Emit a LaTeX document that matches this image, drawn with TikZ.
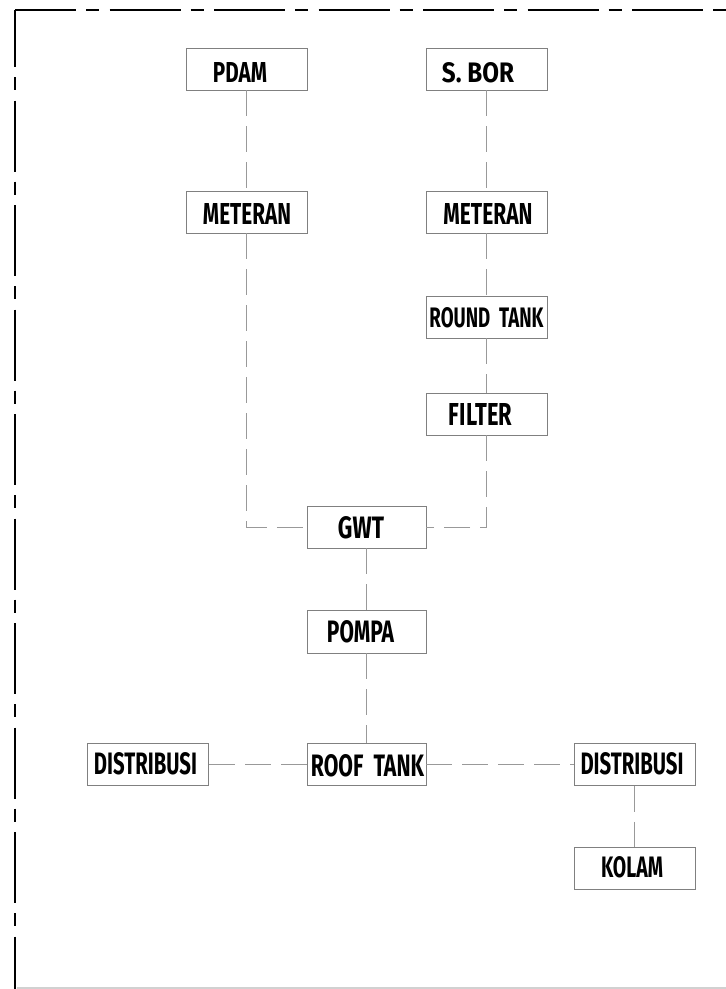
\documentclass[tikz,border=0pt]{standalone}
\usepackage{fontspec}
\setmainfont{Fira Sans}
\newcommand{\cadtxt}[3]{\resizebox{#1pt}{#2pt}{\bfseries #3}}
\begin{document}
\begin{tikzpicture}[x=1pt,y=-1pt,
  boxst/.style={draw=black!50,line width=0.9pt,rectangle,inner sep=0pt,minimum width=121pt,minimum height=42pt},
  txt/.style={inner sep=0pt,text=black},
  conn/.style={draw=black!40,line width=0.9pt,dash pattern=on 26pt off 10pt},
  border/.style={draw=black,line width=2.6pt,dash pattern=on 71pt off 10pt on 13pt off 10.5pt}]
\useasboundingbox (0,0) rectangle (726,989);

% border
\coordinate (c) at (15,10);
\coordinate (bl) at (15,989);
\coordinate (tr) at (726,10);
\coordinate (b1) at (17,988);
\coordinate (b2) at (726,988);
\draw[border,dash phase=14pt] (c) -- (bl);
\draw[border,dash phase=10pt] (c) -- (tr);
\draw[draw=black!18,line width=1.2pt] (b1) -- (b2);

% boxes
\node[boxst] (pdam)   at (246.5,69)  {};
\node[boxst] (sbor)   at (486.5,69)  {};
\node[boxst] (metL)   at (246.5,212) {};
\node[boxst] (metR)   at (486.5,212) {};
\node[boxst] (round)  at (486.5,317) {};
\node[boxst] (filter) at (486.5,414) {};
\node[boxst,minimum width=119pt] (gwt)   at (366.5,527) {};
\node[boxst,minimum width=119pt,minimum height=43pt] (pompa) at (366.5,631.5) {};
\node[boxst,minimum width=119pt] (roof)  at (366.5,764.5) {};
\node[boxst] (distL)  at (147.5,764.5) {};
\node[boxst] (distR)  at (634.5,764.5) {};
\node[boxst] (kolam)  at (634.5,868) {};

% texts
\node[txt] (tpdam)   at (240,72)     {\cadtxt{54}{20}{PDAM}};
\node[txt] (tsbor)   at (478,72.5)   {\cadtxt{72}{20}{S.\ BOR}};
\node[txt] (tmetL)   at (247,213.5)  {\cadtxt{88}{21}{METERAN}};
\node[txt] (tmetR)   at (488,213.5)  {\cadtxt{89}{21}{METERAN}};
\node[txt] (tround)  at (486.5,318)  {\cadtxt{114}{20}{ROUND\ \ TANK}};
\node[txt] (tfilter) at (480.5,414.5) {\cadtxt{63}{22}{FILTER}};
\node[txt] (tgwt)    at (361,528)    {\cadtxt{46}{22}{GWT}};
\node[txt] (tpompa)  at (360.5,631.5) {\cadtxt{67}{22}{POMPA}};
\node[txt] (troof)   at (367.5,765.5) {\cadtxt{113}{22}{ROOF\ \ TANK}};
\node[txt] (tdistL)  at (145.5,764)  {\cadtxt{103}{22}{DISTRIBUSI}};
\node[txt] (tdistR)  at (632,764)    {\cadtxt{103}{22}{DISTRIBUSI}};
\node[txt] (tkolam)  at (632,867.5)  {\cadtxt{62}{21}{KOLAM}};

% connectors
\draw[conn] (pdam) -- (metL);
\draw[conn] (sbor) -- (metR);
\draw[conn] (metR) -- (round);
\draw[conn] (round) -- (filter);
\draw[conn] (metL.south) |- (gwt.west);
\draw[conn] (filter.south) |- (gwt.east);
\draw[conn] (gwt) -- (pompa);
\draw[conn] (pompa) -- (roof);
\draw[conn] (roof) -- (distL);
\draw[conn] (roof) -- (distR);
\draw[conn] (distR) -- (kolam);
\end{tikzpicture}
\end{document}
